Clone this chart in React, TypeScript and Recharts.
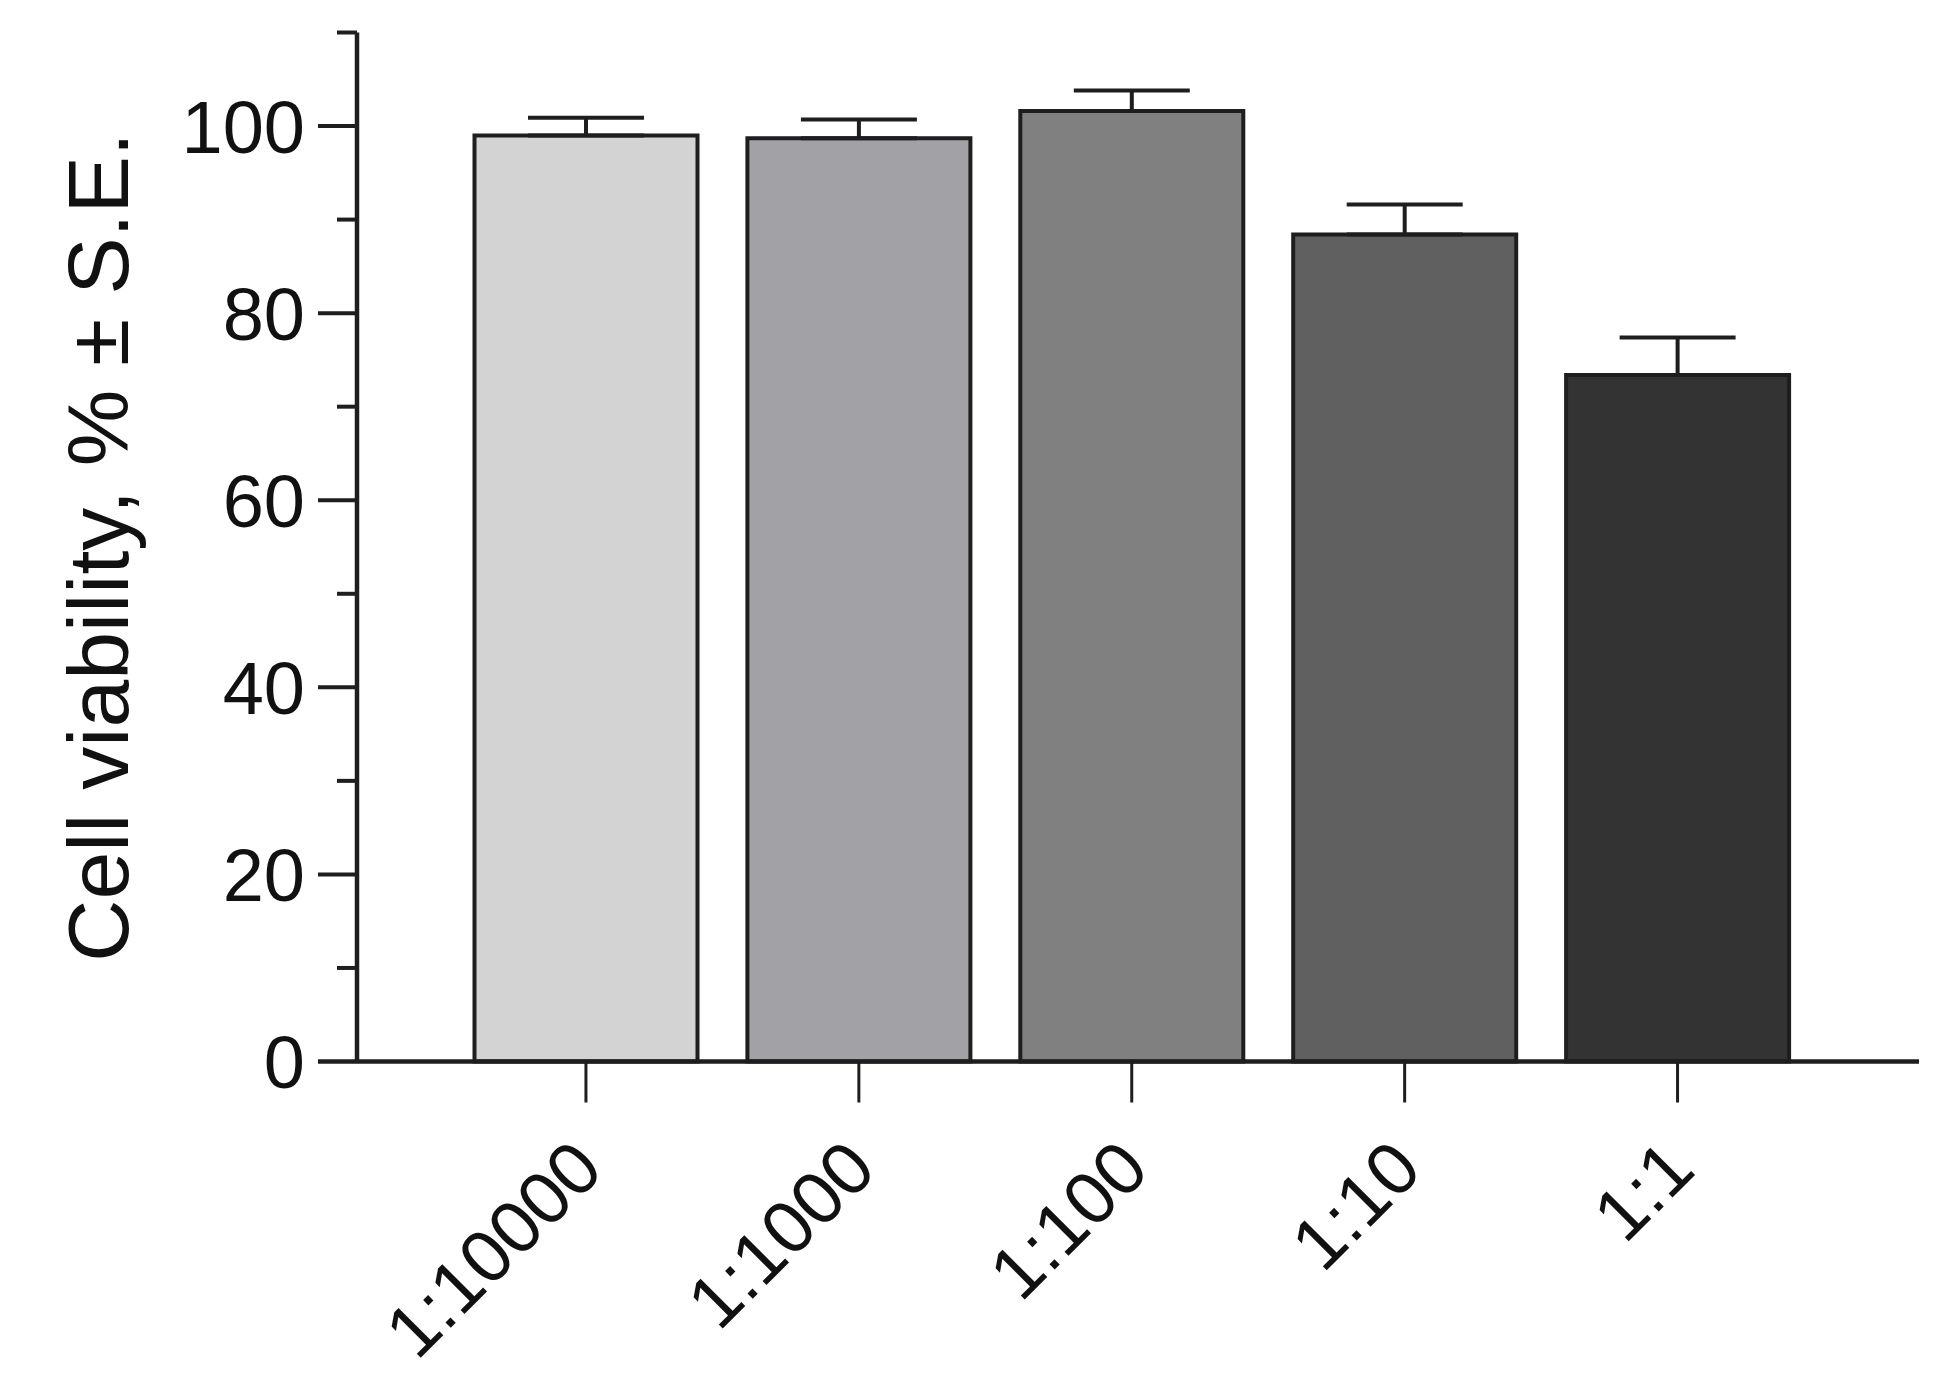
import React from 'react'
import { BarChart, Bar, XAxis, YAxis, ErrorBar, Cell } from 'recharts'

// dilution groups, left to right
const categories = ['1:10000', '1:1000', '1:100', '1:10', '1:1']
// mean cell viability (%) and standard error
const viability = [99.0, 98.7, 101.6, 88.4, 73.4]
const standardError = [1.9, 2.0, 2.2, 3.2, 4.0]
const barColors = ['#d3d3d3', '#a2a1a5', '#808080', '#606060', '#333333']

const yTicks = [0, 10, 20, 30, 40, 50, 60, 70, 80, 90, 100, 110]
const yLabelled = [0, 20, 40, 60, 80, 100]

const FONT = '"Liberation Sans", Arial, Helvetica, sans-serif'
const INK = '#1e1e1e'

const YTick = (props: any) => {
    const { x, y, payload } = props
    const major = yLabelled.includes(payload.value)
    const len = major ? 39 : 20
    return (
        <g>
            <line x1={x - len} y1={y} x2={x} y2={y} stroke={INK} strokeWidth={payload.value === 0 ? 4.5 : 4} />
            {major && (
                <text x={x - 52} y={y} dy="0.36em" textAnchor="end" fontFamily={FONT} fontSize={74} fill="#111">
                    {payload.value}
                </text>
            )}
        </g>
    )
}

const XTick = (props: any) => {
    const { x, y, payload } = props
    return (
        <g>
            <line x1={x} y1={y} x2={x} y2={y + 41} stroke={INK} strokeWidth={3} />
            <g transform={`translate(${x + 20},${y + 111})`}>
                <text transform="rotate(-45)" textAnchor="end" fontFamily={FONT} fontSize={74} fill="#111">
                    {payload.value}
                </text>
            </g>
        </g>
    )
}

const YLabel = (props: any) => {
    const { viewBox } = props
    const cx = viewBox.x + 120
    const cy = viewBox.y + viewBox.height / 2
    return (
        <text
            x={cx}
            y={cy}
            transform={`rotate(-90, ${cx}, ${cy})`}
            textAnchor="middle"
            fontFamily={FONT}
            fontSize={86}
            fill="#111"
        >
            Cell viability, % ± S.E.
        </text>
    )
}

export default function App() {
    const data = categories.map((name, i) => ({
        name,
        viability: viability[i],
        errorY: [0, standardError[i]],
    }))

    return (
        <div style={{ width: 1918, height: 1383, background: '#fff' }}>
            <BarChart
                width={1918}
                height={1383}
                data={data}
                margin={{ top: 24.5, right: 7, left: 0, bottom: 0 }}
            >
                <XAxis
                    dataKey="name"
                    height={329.5}
                    padding={{ left: 92.5, right: 105 }}
                    axisLine={{ stroke: INK, strokeWidth: 4.5 }}
                    tickLine={false}
                    tickSize={0}
                    tickMargin={0}
                    interval={0}
                    tick={<XTick />}
                />
                <YAxis
                    width={349}
                    domain={[0, 110]}
                    ticks={yTicks}
                    interval={0}
                    axisLine={{ stroke: INK, strokeWidth: 4.5 }}
                    tickLine={false}
                    tickSize={0}
                    tickMargin={0}
                    tick={<YTick />}
                    label={<YLabel />}
                />
                <Bar dataKey="viability" barSize={223} stroke={INK} strokeWidth={4} isAnimationActive={false}>
                    {data.map((d, i) => (
                        <Cell key={d.name} fill={barColors[i]} />
                    ))}
                    <ErrorBar
                        dataKey="errorY"
                        direction="y"
                        width={58}
                        stroke={INK}
                        strokeWidth={4}
                        isAnimationActive={false}
                    />
                </Bar>
            </BarChart>
        </div>
    )
}
